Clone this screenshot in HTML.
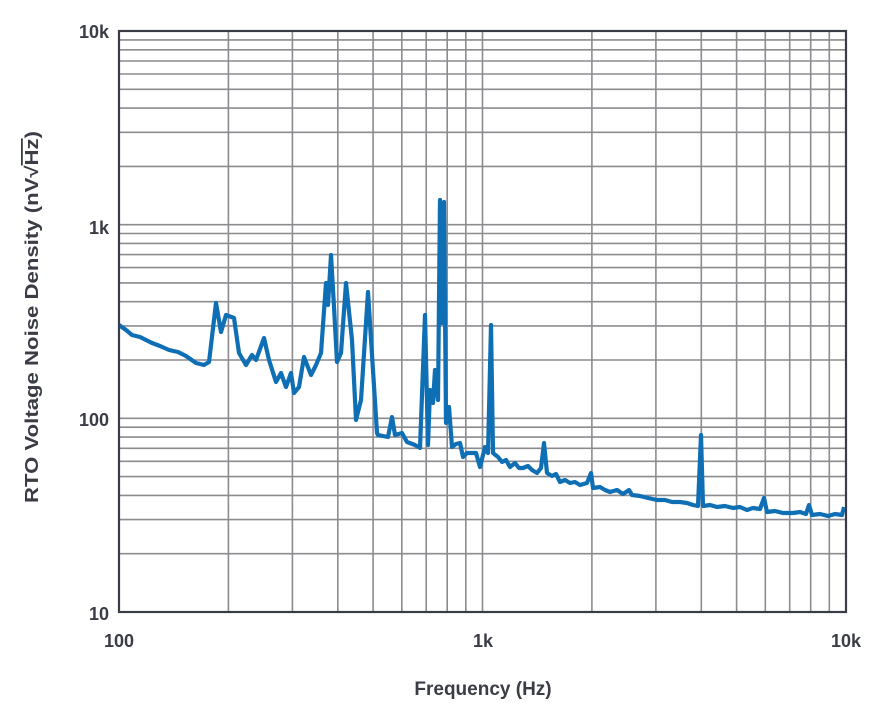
<!DOCTYPE html>
<html><head><meta charset="utf-8"><style>html,body{margin:0;padding:0;background:#fff}</style></head>
<body>
<svg width="870" height="717" xmlns="http://www.w3.org/2000/svg" font-family="Liberation Sans, sans-serif" font-weight="bold" fill="#3a3d45">
<rect width="870" height="717" fill="#fff"/>
<g stroke="#8c8c90" stroke-width="1.6">
<path d="M228.4 31V612M292.4 31V612M337.8 31V612M373.1 31V612M401.8 31V612M426.2 31V612M447.2 31V612M465.8 31V612M482.5 31V612M591.9 31V612M655.9 31V612M701.3 31V612M736.6 31V612M765.3 31V612M789.7 31V612M810.7 31V612M829.3 31V612"/>
<path d="M119 553.7H846M119 519.6H846M119 495.4H846M119 476.6H846M119 461.3H846M119 448.3H846M119 437.1H846M119 427.2H846M119 418.3H846M119 360H846M119 325.9H846M119 301.7H846M119 282.9H846M119 267.6H846M119 254.6H846M119 243.4H846M119 233.5H846M119 224.7H846M119 166.4H846M119 132.3H846M119 108.1H846M119 89.3H846M119 74H846M119 61H846M119 49.8H846M119 39.9H846"/>
</g>
<polyline fill="none" stroke="#0f6fb5" stroke-width="4.2" stroke-linejoin="round" points="119,325 126,330 132,335 140,337 152,343 160,346 169,350 178,352 186,356 196,363 204,365 209,362 216,303 221,332 226,315 234,318 239,353 246,365 252,355 256,360 264,338 269,360 276,382 281,373 286,387 291,373 294,393 299,387 304,357 311,375 316,365 321,353 326,283 328,305 331,255 334,307 337,362 341,353 346,283 352,340 356,420 361,400 368,292 377,433 378,435 388,437 392,417 395,435 402,433 407,442 415,445 420,448 425,315 428,445 430,390 433,403 435,370 438,400 440,200 442,323 444,202 446,423 449,407 452,447 456,444 460,443 463,457 467,453 470,453 476,453 480,467 485,447 488,453 491,325 493,453 498,457 502,462 506,460 510,467 515,463 519,468 523,468 528,466 532,470 537,473 541,468 544,443 547,473 552,476 556,474 560,482 565,480 570,483 575,482 580,485 587,483 591,473 593,488 600,487 605,490 610,492 617,490 623,494 629,490 632,495 640,496 648,498 657,500 665,500 672,502 680,502 687,503 693,505 698,506 701,435 703,506 710,505 717,507 725,506 733,508 740,507 747,510 753,508 760,509 764,498 767,512 775,511 783,513 793,513 800,512 806,514 809,505 812,515 820,514 828,516 835,514 842,515 844,507"/>
<rect x="119" y="31" width="727" height="581" fill="none" stroke="#3a3d45" stroke-width="2.2"/>
<g font-size="18" text-anchor="end">
<text x="109" y="38">10k</text>
<text x="109" y="234">1k</text>
<text x="109" y="426">100</text>
<text x="109" y="620">10</text>
</g>
<g font-size="18" text-anchor="middle">
<text x="119" y="647">100</text>
<text x="483" y="647">1k</text>
<text x="846" y="647">10k</text>
<text x="483" y="695" font-size="19">Frequency (Hz)</text>
</g>
<text transform="translate(38,317) rotate(-90)" font-size="18" text-anchor="middle" textLength="372" lengthAdjust="spacingAndGlyphs">RTO Voltage Noise Density (nV√<tspan text-decoration="overline">Hz</tspan>)</text>
</svg>
</body></html>
